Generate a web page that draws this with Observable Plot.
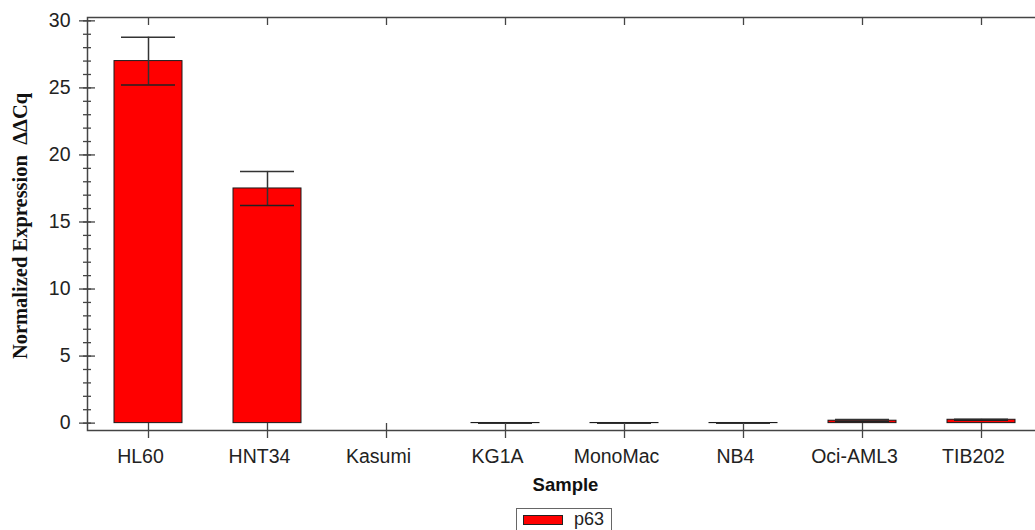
<!DOCTYPE html>
<html>
<head>
<meta charset="utf-8">
<script src="https://cdn.jsdelivr.net/npm/d3@7"></script>
<script src="https://cdn.jsdelivr.net/npm/@observablehq/plot@0.6"></script>
<style>
  html, body { margin: 0; padding: 0; background: #fff; overflow: hidden; width: 1035px; height: 530px; }
  #chart { position: absolute; left: 0; top: 0; width: 1050px; }
  #chart svg { max-width: none !important; width: 1050px !important; height: 505px !important; }
  #legend {
    position: absolute; left: 516px; top: 508px; width: 96px; height: 24px;
    border: 1px solid #666; box-sizing: border-box; background: #fff;
    font-family: "Liberation Sans", Arial, sans-serif; font-size: 18px; color: #222;
  }
  #legend .sw { position: absolute; left: 6px; top: 6px; width: 40px; height: 10px; background: #ff0000; border: 1px solid #222; box-sizing: border-box; }
  #legend .lb { position: absolute; left: 57px; top: 0px; }
</style>
</head>
<body>
<div id="chart"></div>
<div id="legend"><div class="sw"></div><div class="lb">p63</div></div>
<script>
const categories = ["HL60", "HNT34", "Kasumi", "KG1A", "MonoMac", "NB4", "Oci-AML3", "TIB202"];
const values = [27.0, 17.5, null, 0.01, 0.01, 0.01, 0.18, 0.25];
const errors = [1.78, 1.27, null, 0, 0, 0, 0.08, 0.03];
const yTicks = [0, 5, 10, 15, 20, 25, 30];
const yMinorTicks = d3.range(0, 31, 1);
const seriesName = "p63";

const data = categories.map((c, i) => ({sample: c, value: values[i], err: errors[i]}));
const bars = data.filter(d => d.value != null);
const errs = data.filter(d => d.err != null);

const axisColor = "#444";
const blank = () => "";

const chart = Plot.plot({
  width: 1050,
  height: 505,
  marginLeft: 87,
  marginRight: 7,
  marginTop: 17,
  marginBottom: 75,
  style: {fontFamily: "'Liberation Sans', Arial, sans-serif", fontSize: "19.5px", color: "#222", background: "#fff"},
  x: {type: "band", domain: categories, paddingInner: 0.426, paddingOuter: 0.213},
  y: {domain: [-0.55, 30.25]},
  marks: [
    Plot.barY(bars, {x: "sample", y: "value", fill: "#ff0000", stroke: "#1a1a1a", strokeWidth: 1}),
    Plot.ruleX(errs, {x: "sample", y1: d => d.value - d.err, y2: d => d.value + d.err, stroke: "#333", strokeWidth: 1.5}),
    Plot.tickY(errs, {x: "sample", y: d => d.value + d.err, inset: 7, stroke: "#333", strokeWidth: 1.6}),
    Plot.tickY(errs, {x: "sample", y: d => d.value - d.err, inset: 7, stroke: "#222", strokeWidth: 1.6}),
    Plot.frame({stroke: axisColor, strokeWidth: 1.5}),
    // left axis: major crossing ticks, minor ticks, labels
    Plot.axisY(yTicks, {anchor: "left", tickSize: 16, dx: 8, tickFormat: blank, label: null, stroke: axisColor, strokeWidth: 1.3}),
    Plot.axisY(yMinorTicks, {anchor: "left", tickSize: 8, dx: 4, tickFormat: blank, label: null, stroke: axisColor, strokeWidth: 1.3}),
    Plot.axisY(yTicks, {anchor: "left", tickSize: 0, tickPadding: 17, fontSize: 19.5, label: null, fill: "#222"}),
    // right axis ticks (partly outside the window)
    Plot.axisY(yTicks, {anchor: "right", tickSize: 16, dx: -8, tickFormat: blank, label: null, stroke: axisColor}),
    Plot.axisY(yMinorTicks, {anchor: "right", tickSize: 8, dx: -4, tickFormat: blank, label: null, stroke: axisColor}),
    // x axis ticks bottom (crossing) and top (inward)
    Plot.axisX({anchor: "bottom", tickSize: 15, dy: -7, tickFormat: blank, label: null, stroke: axisColor, strokeWidth: 1.3}),
    Plot.axisX({anchor: "top", tickSize: 7, dy: 7, tickFormat: blank, label: null, stroke: axisColor, strokeWidth: 1.3}),
    Plot.axisX({anchor: "bottom", tickSize: 0, tickPadding: 19, dx: -8, fontSize: 19.5, label: null, fill: "#222"}),
    // axis titles
    Plot.text(["Sample"], {frameAnchor: "bottom", dy: 55, textAnchor: "middle", lineAnchor: "middle", fontWeight: "bold", fontSize: 18.5, fill: "#111"}),
    Plot.text(["Normalized Expression  ΔΔCq"], {frameAnchor: "left", dx: -67, dy: 2, rotate: -90, textAnchor: "middle", lineAnchor: "middle", fontWeight: "bold", fontSize: 20.5, fontFamily: "'Liberation Serif', 'Times New Roman', serif", fill: "#111"})
  ]
});
document.getElementById("chart").appendChild(chart);
</script>
</body>
</html>
